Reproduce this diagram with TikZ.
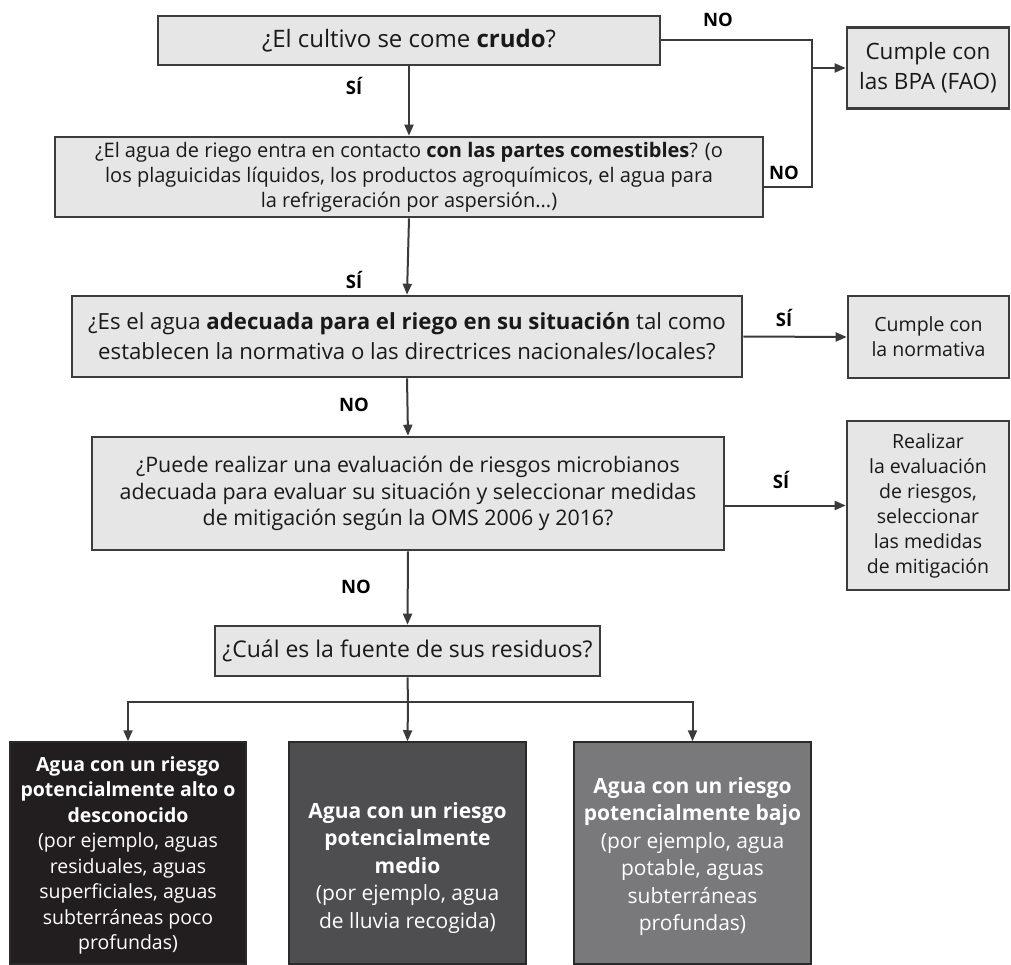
\documentclass[tikz,border=0pt]{standalone}
\usepackage{fontspec}
\setmainfont{Open Sans}
\usetikzlibrary{arrows.meta}
\definecolor{boxfill}{HTML}{E6E6E7}
\definecolor{boxline}{HTML}{3C3C3C}
\definecolor{lineclr}{HTML}{3A3A3A}
\definecolor{darkA}{HTML}{221E1F}
\definecolor{darkB}{HTML}{4E4E50}
\definecolor{darkC}{HTML}{79797B}
\tikzset{
  qbox/.style={draw=boxline, line width=2.6pt, fill=boxfill, inner sep=0pt, align=center, text=black!90},
  dbox/.style={draw=boxline!70!black, line width=1.5pt, inner sep=0pt},
  arr/.style={draw=lineclr, line width=2pt, -{Triangle[length=11pt,width=9pt]}},
  ln/.style={draw=lineclr, line width=2pt},
  lbl/.style={font=\fontsize{18.5}{20}\selectfont\bfseries, inner sep=0pt},
  wtxt/.style={text=white, align=center, inner sep=0pt},
}
\begin{document}
\begin{tikzpicture}[x=1pt,y=-1pt]
\useasboundingbox (0,0) rectangle (1011,965);
% question boxes
\node[qbox, minimum width=502pt, minimum height=49pt, font=\fontsize{24}{28}\selectfont] (q1) at (409,40.5) {¿El cultivo se come \textbf{crudo}?};
\node[qbox, minimum width=708pt, minimum height=80pt, font=\fontsize{20}{25}\selectfont] (q2) at (409,177) {¿El agua de riego entra en contacto \textbf{con las partes comestibles}? (o\\ los plaguicidas líquidos, los productos agroquímicos, el agua para\\ la refrigeración por aspersión...)};
\node[qbox, minimum width=670pt, minimum height=81pt, font=\fontsize{22.2}{30}\selectfont] (q3) at (407,336.5) {¿Es el agua \textbf{adecuada para el riego en su situación} tal como\\ establecen la normativa o las directrices nacionales/locales?};
\node[qbox, minimum width=632pt, minimum height=113pt, font=\fontsize{21.4}{26.5}\selectfont] (q4) at (408,493.5) {¿Puede realizar una evaluación de riesgos microbianos\\ adecuada para evaluar su situación y seleccionar medidas\\ de mitigación según la OMS 2006 y 2016?};
\node[qbox, minimum width=385pt, minimum height=50pt, font=\fontsize{23}{26}\selectfont] (q5) at (407.5,651) {¿Cuál es la fuente de sus residuos?};
% outcome boxes right
\node[qbox, minimum width=162pt, minimum height=81pt, font=\fontsize{22.5}{30}\selectfont] (bpa) at (928,68) {Cumple con\\ las BPA (FAO)};
\node[qbox, minimum width=161pt, minimum height=82pt, font=\fontsize{19.5}{25}\selectfont] (norm) at (928.5,337) {Cumple con\\ la normativa};
\node[qbox, minimum width=162pt, minimum height=169pt, font=\fontsize{19.5}{25}\selectfont] (eval) at (928,505.5) {Realizar\\ la evaluación\\ de riesgos,\\ seleccionar\\ las medidas\\ de mitigación};
% bottom boxes
\node[dbox, fill=darkA, minimum width=236pt, minimum height=222pt] (ba) at (128,853) {};
\node[dbox, fill=darkB, minimum width=237pt, minimum height=222pt] (bb) at (407.5,853) {};
\node[dbox, fill=darkC, minimum width=237pt, minimum height=222pt] (bc) at (692.5,853) {};
\node[wtxt, font=\fontsize{19.5}{25.5}\selectfont] (ta) at (128,855.5) {\textbf{Agua con un riesgo}\\ \textbf{potencialmente alto o}\\ \textbf{desconocido}\\ (por ejemplo, aguas\\ residuales, aguas\\ superficiales, aguas\\ subterráneas poco\\ profundas)};
\node[wtxt, font=\fontsize{21}{27.5}\selectfont] (tb) at (407.5,868) {\textbf{Agua con un riesgo}\\ \textbf{potencialmente}\\ \textbf{medio}\\ (por ejemplo, agua\\ de lluvia recogida)};
\node[wtxt, font=\fontsize{21}{27.5}\selectfont] (tc) at (692.5,856.5) {\textbf{Agua con un riesgo}\\ \textbf{potencialmente bajo}\\ (por ejemplo, agua\\ potable, aguas\\ subterráneas\\ profundas)};
% connectors
\coordinate (j1) at (812,40.5);
\coordinate (j2) at (812,187);
\coordinate (jb) at (812,68);
\coordinate (br) at (408,702);
\draw[ln] (q1.east) -- (j1) -- (j2) -- (q2.east |- j2);
\draw[arr] (jb) -- (bpa.west);
\draw[arr] (q1.south) -- (q2.north);
\draw[arr] (q2.south) -- (q3.north);
\draw[arr] (q3.east) -- (norm.west);
\draw[arr] (q3.south) -- (q4.north);
\draw[arr] (q4.east |- eval.west) -- (eval.west);
\draw[arr] (q4.south) -- (q5.north);
\draw[ln] (q5.south) -- (br);
\draw[arr] (br) -| (ba.north);
\draw[arr] (br) -- (bb.north);
\draw[arr] (br) -| (bc.north);
% labels
\node[lbl] (l1) at (718,20) {NO};
\node[lbl] (l2) at (784,173) {NO};
\node[lbl] (l3) at (354,86) {SÍ};
\node[lbl] (l4) at (354,280) {SÍ};
\node[lbl] (l5) at (784,318) {SÍ};
\node[lbl] (l6) at (354,405) {NO};
\node[lbl] (l7) at (781,480) {SÍ};
\node[lbl] (l8) at (356,587) {NO};
\end{tikzpicture}
\end{document}
